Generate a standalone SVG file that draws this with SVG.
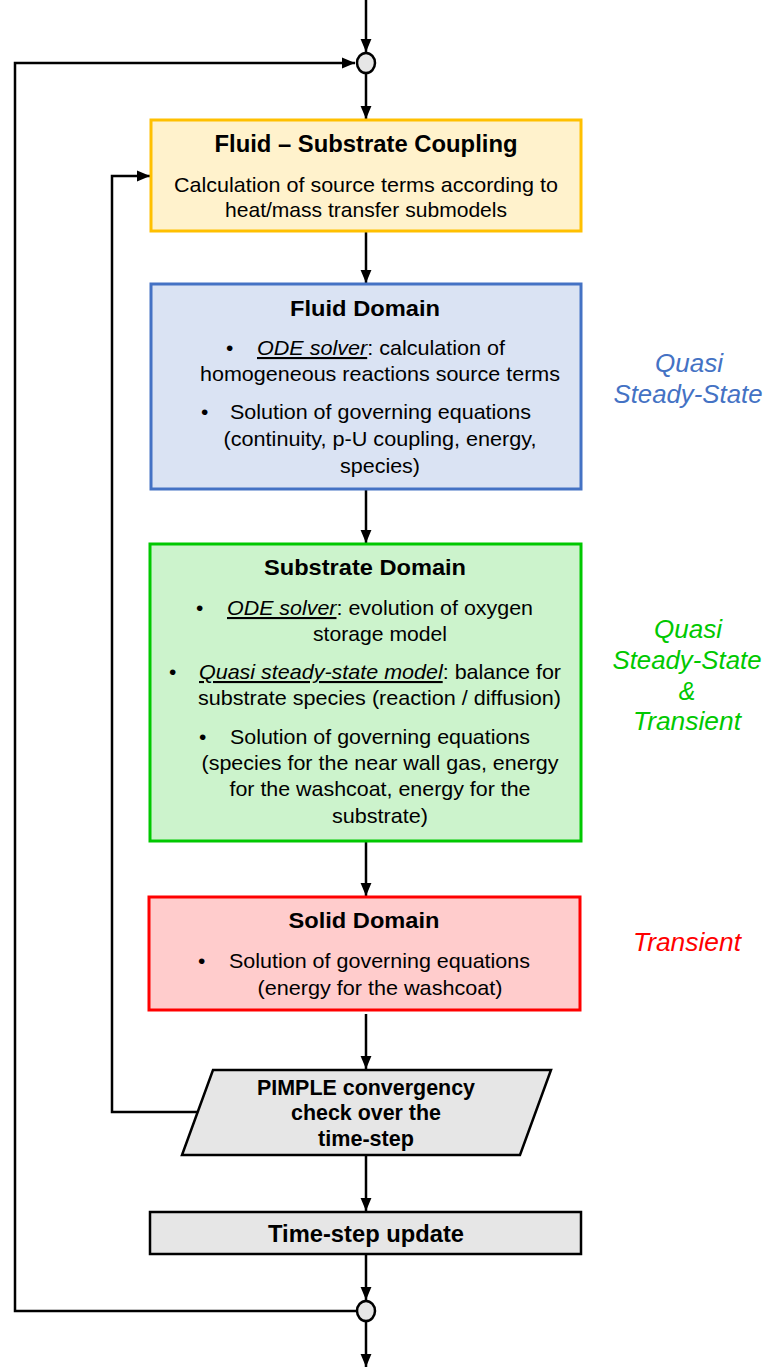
<svg xmlns="http://www.w3.org/2000/svg" width="764" height="1367" viewBox="0 0 764 1367">
<style>
.t{font-family:"Liberation Sans",Arial,sans-serif;font-size:21px;fill:#000}
.h{font-family:"Liberation Sans",Arial,sans-serif;font-size:22px;font-weight:bold;fill:#000}
.n{font-family:"Liberation Sans Narrow","Arial Narrow","Liberation Sans",sans-serif;font-size:21px;fill:#000}
.nb{font-family:"Liberation Sans Narrow","Arial Narrow","Liberation Sans",sans-serif;font-size:23px;font-weight:bold;fill:#000}
.s{font-family:"Liberation Sans",Arial,sans-serif;font-size:25px;font-style:italic}
.u{font-style:italic;text-decoration:underline}
.c{fill:none;stroke:#000;stroke-width:2.5}
</style>
<defs>
<marker id="a" viewBox="0 0 12 10" refX="12" refY="5" markerWidth="5.2" markerHeight="4.6" orient="auto" markerUnits="strokeWidth">
<path d="M0,0 L12,5 L0,10 z" fill="#000"/>
</marker>
</defs>
<g id="connectors">
<path class="c" d="M366,0 V52" marker-end="url(#a)"/>
<path class="c" d="M357,1311 H15 V63 H355" marker-end="url(#a)"/>
<path class="c" d="M366,73 V119" marker-end="url(#a)"/>
<path class="c" d="M366,232 V283" marker-end="url(#a)"/>
<path class="c" d="M366,490 V543" marker-end="url(#a)"/>
<path class="c" d="M366,842 V896" marker-end="url(#a)"/>
<path class="c" d="M366,1014 V1069" marker-end="url(#a)"/>
<path class="c" d="M198,1112 H112 V176 H150" marker-end="url(#a)"/>
<path class="c" d="M366,1156 V1211" marker-end="url(#a)"/>
<path class="c" d="M366,1255 V1300" marker-end="url(#a)"/>
<path class="c" d="M366,1321 V1367" marker-end="url(#a)"/>
</g>
<g id="junction-top"><ellipse cx="366" cy="63" rx="9" ry="10" fill="#E6E6E6" stroke="#000" stroke-width="2.5"/></g>
<g id="junction-bottom"><ellipse cx="366" cy="1311" rx="9" ry="10" fill="#E6E6E6" stroke="#000" stroke-width="2.5"/></g>
<g id="coupling">
<rect x="151" y="120" width="430" height="111" fill="#FFF2CC" stroke="#FFC000" stroke-width="3"/>
<text class="nb" x="366" y="152" text-anchor="middle" textLength="303" lengthAdjust="spacingAndGlyphs">Fluid – Substrate Coupling</text>
<text class="n" x="366" y="192" text-anchor="middle" textLength="384" lengthAdjust="spacingAndGlyphs">Calculation of source terms according to</text>
<text class="n" x="366" y="217" text-anchor="middle" textLength="282" lengthAdjust="spacingAndGlyphs">heat/mass transfer submodels</text>
</g>
<g id="fluid">
<rect x="151" y="284" width="430" height="205" fill="#DAE3F3" stroke="#4472C4" stroke-width="3"/>
<text class="h" x="365" y="316" text-anchor="middle" textLength="150" lengthAdjust="spacingAndGlyphs">Fluid Domain</text>
<text class="t" x="226" y="355">•</text>
<text class="t" x="257" y="355" textLength="248" lengthAdjust="spacingAndGlyphs"><tspan class="u">ODE solver</tspan>: calculation of</text>
<text class="t" x="200" y="381" textLength="360" lengthAdjust="spacingAndGlyphs">homogeneous reactions source terms</text>
<text class="t" x="201" y="419">•</text>
<text class="t" x="230" y="419" textLength="301" lengthAdjust="spacingAndGlyphs">Solution of governing equations</text>
<text class="t" x="380" y="446" text-anchor="middle" textLength="313" lengthAdjust="spacingAndGlyphs">(continuity, p-U coupling, energy,</text>
<text class="t" x="380" y="473" text-anchor="middle" textLength="80" lengthAdjust="spacingAndGlyphs">species)</text>
</g>
<g id="substrate">
<rect x="150" y="544" width="431" height="297" fill="#CCF3CC" stroke="#00C800" stroke-width="3"/>
<text class="h" x="365" y="575" text-anchor="middle" textLength="202" lengthAdjust="spacingAndGlyphs">Substrate Domain</text>
<text class="t" x="196" y="615">•</text>
<text class="t" x="227" y="615" textLength="306" lengthAdjust="spacingAndGlyphs"><tspan class="u">ODE solver</tspan>: evolution of oxygen</text>
<text class="t" x="380" y="641" text-anchor="middle" textLength="134" lengthAdjust="spacingAndGlyphs">storage model</text>
<text class="t" x="169" y="679">•</text>
<text class="t" x="199" y="679" textLength="362" lengthAdjust="spacingAndGlyphs"><tspan class="u">Quasi steady-state model</tspan>: balance for</text>
<text class="t" x="198" y="705" textLength="363" lengthAdjust="spacingAndGlyphs">substrate species (reaction / diffusion)</text>
<text class="t" x="199" y="744">•</text>
<text class="t" x="230" y="744" textLength="300" lengthAdjust="spacingAndGlyphs">Solution of governing equations</text>
<text class="t" x="380" y="770" text-anchor="middle" textLength="357" lengthAdjust="spacingAndGlyphs">(species for the near wall gas, energy</text>
<text class="t" x="380" y="796" text-anchor="middle" textLength="301" lengthAdjust="spacingAndGlyphs">for the washcoat, energy for the</text>
<text class="t" x="380" y="823" text-anchor="middle" textLength="96" lengthAdjust="spacingAndGlyphs">substrate)</text>
</g>
<g id="solid">
<rect x="149" y="897" width="431" height="113" fill="#FFCCCC" stroke="#FF0000" stroke-width="3"/>
<text class="h" x="364" y="928" text-anchor="middle" textLength="151" lengthAdjust="spacingAndGlyphs">Solid Domain</text>
<text class="t" x="198" y="968">•</text>
<text class="t" x="229" y="968" textLength="301" lengthAdjust="spacingAndGlyphs">Solution of governing equations</text>
<text class="t" x="380" y="995" text-anchor="middle" textLength="245" lengthAdjust="spacingAndGlyphs">(energy for the washcoat)</text>
</g>
<g id="pimple">
<polygon points="213,1070 551,1070 520,1155 182,1155" fill="#E6E6E6" stroke="#000" stroke-width="2.5"/>
<text class="h" x="366" y="1095" text-anchor="middle" font-size="20" textLength="218" lengthAdjust="spacingAndGlyphs">PIMPLE convergency</text>
<text class="h" x="366" y="1120" text-anchor="middle" font-size="20" textLength="150" lengthAdjust="spacingAndGlyphs">check over the</text>
<text class="h" x="366" y="1146" text-anchor="middle" font-size="20" textLength="96" lengthAdjust="spacingAndGlyphs">time-step</text>
</g>
<g id="timestep">
<rect x="150" y="1212" width="431" height="42" fill="#E6E6E6" stroke="#000" stroke-width="2.5"/>
<text class="nb" x="366" y="1242" text-anchor="middle" textLength="196" lengthAdjust="spacingAndGlyphs">Time-step update</text>
</g>
<g id="labels">
<text class="s" x="689" y="372" text-anchor="middle" fill="#4472C4" textLength="68" lengthAdjust="spacingAndGlyphs">Quasi</text>
<text class="s" x="688" y="403" text-anchor="middle" fill="#4472C4" textLength="149" lengthAdjust="spacingAndGlyphs">Steady-State</text>
<text class="s" x="688" y="638" text-anchor="middle" fill="#00C800" textLength="68" lengthAdjust="spacingAndGlyphs">Quasi</text>
<text class="s" x="687" y="669" text-anchor="middle" fill="#00C800" textLength="149" lengthAdjust="spacingAndGlyphs">Steady-State</text>
<text class="s" x="687" y="700" text-anchor="middle" fill="#00C800">&amp;</text>
<text class="s" x="687" y="730" text-anchor="middle" fill="#00C800" textLength="108" lengthAdjust="spacingAndGlyphs">Transient</text>
<text class="s" x="687" y="951" text-anchor="middle" fill="#FF0000" textLength="108" lengthAdjust="spacingAndGlyphs">Transient</text>
</g>
</svg>
